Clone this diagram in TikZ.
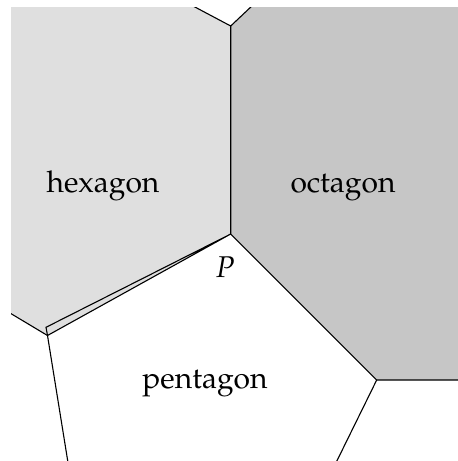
\documentclass[tikz,border=0pt]{standalone}
\usepackage[T1]{fontenc}
\usepackage{mathpazo}
\begin{document}
\begin{tikzpicture}[x=1pt,y=-1pt,
  edge/.style={line width=1.1pt,black},
  lbl/.style={inner sep=0pt,anchor=base,font=\fontsize{30}{35}\selectfont}]
\useasboundingbox (0,0) rectangle (458,461);
\coordinate (T) at (230.7,26);
\coordinate (P) at (230.7,234);
\coordinate (R) at (376.7,380);
\coordinate (A) at (46,327.3);
\coordinate (C) at (47.5,335.5);
\coordinate (TL) at (144,-20);
\coordinate (TR) at (279.4,-20);
\coordinate (L) at (-20,295.1);
\coordinate (BL) at (70.8,480);
\coordinate (BR) at (327.5,480);
\coordinate (RR) at (480,380);
\begin{scope}
\clip (11,7) rectangle (458,461);
\fill[black!12.5] (T) -- (TL) -- (-20,-20) -- (L) -- (C) -- (P) -- cycle;
\fill[black!22.5] (T) -- (TR) -- (480,-20) -- (RR) -- (R) -- (P) -- cycle;
\draw[edge] (TL) -- (T) -- (TR);
\draw[edge] (T) -- (P) -- (R) -- (RR);
\draw[edge] (R) -- (BR);
\draw[edge] (P) -- (A) -- (C) -- (P);
\draw[edge] (L) -- (C) -- (BL);
\end{scope}
\node[lbl] (hex) at (103,192) {hexagon};
\node[lbl] (oct) at (343,192) {octagon};
\node[lbl] (pent) at (205,388) {pentagon};
\node[lbl] (p) at (225,277) {$P$};
\end{tikzpicture}
\end{document}
